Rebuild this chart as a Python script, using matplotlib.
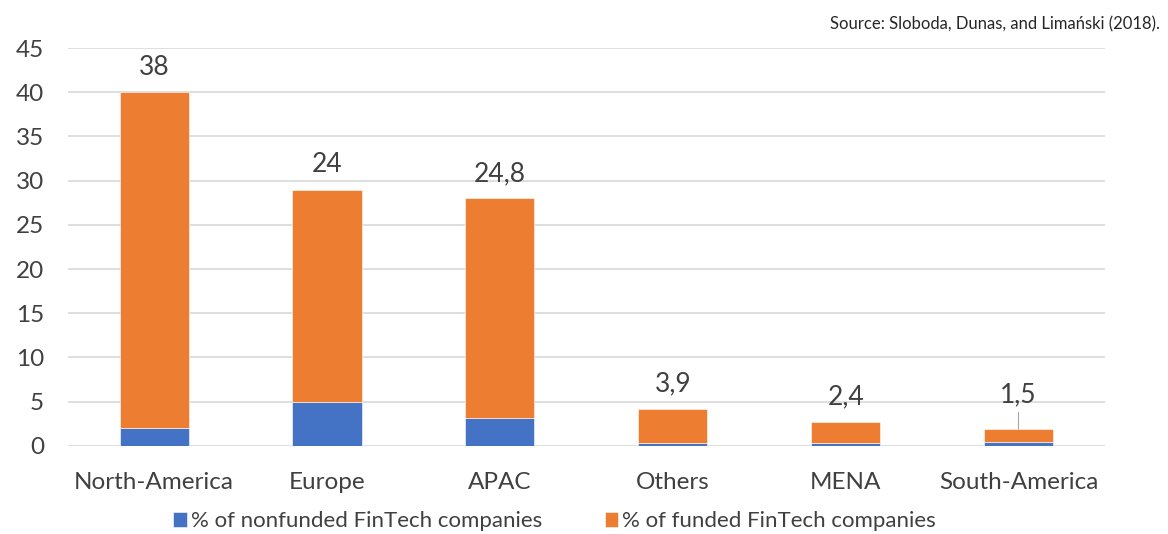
import matplotlib.pyplot as plt

regions = ['North-America', 'Europe', 'APAC', 'Others', 'MENA', 'South-America']
nonfunded = [2.0, 5.0, 3.2, 0.3, 0.3, 0.4]
funded = [38, 24, 24.8, 3.9, 2.4, 1.5]
funded_labels = ['38', '24', '24,8', '3,9', '2,4', '1,5']

plt.rcParams['font.family'] = ['Lato', 'DejaVu Sans']
txt = '#404040'

fig = plt.figure(figsize=(11.68, 5.34), dpi=100)
ax = fig.add_axes([0.058, 0.165, 0.888, 0.745])

x = range(len(regions))
ax.bar(x, nonfunded, width=0.4, color='#4472C4', edgecolor='white', linewidth=0.4,
       label='% of nonfunded FinTech companies', zorder=3)
ax.bar(x, funded, width=0.4, bottom=nonfunded, color='#ED7D31', edgecolor='white', linewidth=0.4,
       label='% of funded FinTech companies', zorder=3)

for i in x:
    top = nonfunded[i] + funded[i]
    if regions[i] == 'South-America':
        ax.annotate(funded_labels[i], (i, top), xytext=(0, 25), textcoords='offset points',
                    ha='center', va='center', fontsize=19, color=txt,
                    arrowprops=dict(arrowstyle='-', color='#a6a6a6', lw=0.8, shrinkA=2, shrinkB=0))
    else:
        ax.annotate(funded_labels[i], (i, top), xytext=(0, 18), textcoords='offset points',
                    ha='center', va='center', fontsize=19, color=txt)

ax.set_ylim(0, 45)
ax.set_xlim(-0.5, 5.5)
ax.set_yticks(range(0, 46, 5))
ax.set_xticks(list(x))
ax.set_xticklabels(regions)
ax.grid(axis='y', color='#d9d9d9', linewidth=1.2, zorder=0)
for s in ax.spines.values():
    s.set_visible(False)
ax.tick_params(axis='both', length=0, labelsize=17.5, colors=txt)
ax.tick_params(axis='y', pad=17)
ax.tick_params(axis='x', pad=19)

fig.legend(loc='lower center', bbox_to_anchor=(0.475, -0.032), ncol=2, frameon=False,
           fontsize=16, handlelength=0.6, handleheight=0.7, handletextpad=0.2,
           columnspacing=2.8, labelcolor=txt)
fig.text(0.993, 0.955, 'Source: Sloboda, Dunas, and Limański (2018).', ha='right', va='center',
         fontsize=12, color='#262626')

fig.savefig('out.png', dpi=100)
